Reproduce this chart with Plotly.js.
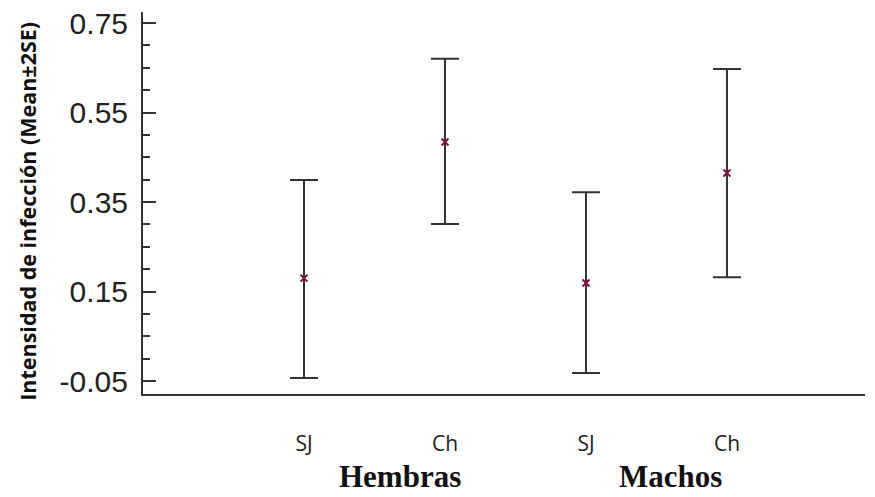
<!DOCTYPE html>
<html>
<head>
<meta charset="utf-8">
<script src="https://cdn.plot.ly/plotly-3.0.1.min.js"></script>
<style>html,body{margin:0;padding:0;background:#fff;}#chart{width:875px;height:497px;}</style>
</head>
<body>
<div id="chart"></div>
<script>
// Data
const categories = ["SJ", "Ch", "SJ", "Ch"];
const groups = ["Hembras", "Machos"];
const means = [0.180, 0.484, 0.169, 0.415];
const upper = [0.399, 0.670, 0.372, 0.647];
const lower = [-0.043, 0.301, -0.032, 0.182];
const yTicks = [-0.05, 0.15, 0.35, 0.55, 0.75];

const xPos = categories.map((c, i) => i + 1);
const errPlus = upper.map((u, i) => u - means[i]);
const errMinus = lower.map((l, i) => means[i] - l);

const trace = {
  x: xPos,
  y: means,
  type: "scatter",
  mode: "markers",
  marker: {symbol: "x-thin-open", size: 7, color: "#7a1040", line: {width: 2, color: "#7a1040"}},
  error_y: {type: "data", symmetric: false, array: errPlus, arrayminus: errMinus,
            color: "#333333", thickness: 2, width: 14},
  hoverinfo: "none",
  showlegend: false
};

const layout = {
  width: 875, height: 497,
  margin: {l: 143, r: 10, t: 12, b: 103},
  paper_bgcolor: "#ffffff", plot_bgcolor: "#ffffff",
  xaxis: {
    range: [-0.142, 4.979],
    tickvals: xPos, ticktext: categories,
    showgrid: false, zeroline: false,
    showline: true, linecolor: "#333333", linewidth: 2,
    ticks: "", ticklabelstandoff: 30,
    tickfont: {family: "Open Sans, sans-serif", size: 21, color: "#222222"}
  },
  yaxis: {
    range: [-0.079, 0.7746],
    tickvals: yTicks, ticktext: yTicks.map(v => v.toFixed(2)),
    showgrid: false, zeroline: false,
    showline: true, linecolor: "#333333", linewidth: 2,
    ticks: "inside", ticklen: 13, tickwidth: 2, tickcolor: "#333333",
    ticklabelstandoff: 7,
    tickfont: {family: "Liberation Sans, Arial, sans-serif", size: 30, color: "#222222"},
    minor: {tick0: -0.05, dtick: 0.05, ticks: "inside", ticklen: 7, tickwidth: 2, tickcolor: "#333333", showgrid: false}
  },
  annotations: [
    {text: "Intensidad de infección (Mean±2SE)", textangle: -90,
     xref: "paper", yref: "paper", x: -0.161, y: 0.479, xanchor: "center", yanchor: "middle",
     showarrow: false, font: {family: "Open Sans, sans-serif", size: 21.5, color: "#111111", weight: "bold"}},
    {text: "<b>" + groups[0] + "</b>", xref: "x", yref: "paper", x: 1.68, y: -0.267,
     xanchor: "center", yanchor: "bottom", showarrow: false,
     font: {family: "Liberation Serif, Times New Roman, serif", size: 31, color: "#111111"}},
    {text: "<b>" + groups[1] + "</b>", xref: "x", yref: "paper", x: 3.596, y: -0.267,
     xanchor: "center", yanchor: "bottom", showarrow: false,
     font: {family: "Liberation Serif, Times New Roman, serif", size: 31, color: "#111111"}}
  ]
};

Plotly.newPlot("chart", [trace], layout, {displayModeBar: false, staticPlot: true});
</script>
</body>
</html>
